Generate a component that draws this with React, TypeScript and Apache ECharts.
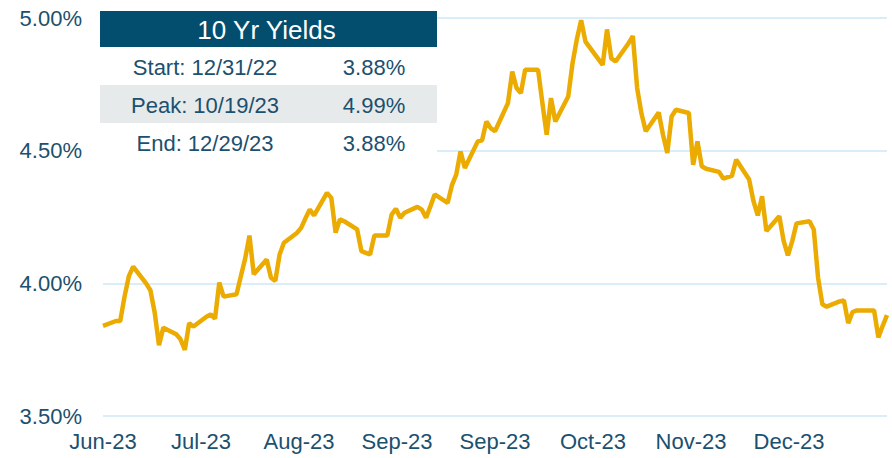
import React, { useEffect, useRef } from "react";
import * as echarts from "echarts";

// ---- data ----
const dates: string[] = [
  "2023-06-30", "2023-07-03", "2023-07-04", "2023-07-05", "2023-07-06", "2023-07-07",
  "2023-07-10", "2023-07-11", "2023-07-12", "2023-07-13", "2023-07-14",
  "2023-07-17", "2023-07-18", "2023-07-19", "2023-07-20", "2023-07-21",
  "2023-07-24", "2023-07-25", "2023-07-26", "2023-07-27", "2023-07-28",
  "2023-07-31", "2023-08-01", "2023-08-02", "2023-08-03", "2023-08-04",
  "2023-08-07", "2023-08-08", "2023-08-09", "2023-08-10", "2023-08-11",
  "2023-08-14", "2023-08-15", "2023-08-16", "2023-08-17", "2023-08-18",
  "2023-08-21", "2023-08-22", "2023-08-23", "2023-08-24", "2023-08-25",
  "2023-08-28", "2023-08-29", "2023-08-30", "2023-08-31", "2023-09-01",
  "2023-09-04", "2023-09-05", "2023-09-06", "2023-09-07", "2023-09-08",
  "2023-09-11", "2023-09-12", "2023-09-13", "2023-09-14", "2023-09-15",
  "2023-09-18", "2023-09-19", "2023-09-20", "2023-09-21", "2023-09-22",
  "2023-09-25", "2023-09-26", "2023-09-27", "2023-09-28", "2023-09-29",
  "2023-10-02", "2023-10-03", "2023-10-04", "2023-10-05", "2023-10-06",
  "2023-10-09", "2023-10-10", "2023-10-11", "2023-10-12", "2023-10-13",
  "2023-10-16", "2023-10-17", "2023-10-18", "2023-10-19", "2023-10-20",
  "2023-10-23", "2023-10-24", "2023-10-25", "2023-10-26", "2023-10-27",
  "2023-10-30", "2023-10-31", "2023-11-01", "2023-11-02", "2023-11-03",
  "2023-11-06", "2023-11-07", "2023-11-08", "2023-11-09", "2023-11-10",
  "2023-11-13", "2023-11-14", "2023-11-15", "2023-11-16", "2023-11-17",
  "2023-11-20", "2023-11-21", "2023-11-22", "2023-11-23", "2023-11-24",
  "2023-11-27", "2023-11-28", "2023-11-29", "2023-11-30", "2023-12-01",
  "2023-12-04", "2023-12-05", "2023-12-06", "2023-12-07", "2023-12-08",
  "2023-12-11", "2023-12-12", "2023-12-13", "2023-12-14", "2023-12-15",
  "2023-12-18", "2023-12-19", "2023-12-20", "2023-12-21", "2023-12-22",
  "2023-12-25", "2023-12-26", "2023-12-27", "2023-12-28", "2023-12-29",
];

const yields: number[] = [
  3.84, 3.858, 3.858, 3.95, 4.027, 4.063,
  4.0, 3.974, 3.89, 3.767, 3.833,
  3.808, 3.789, 3.749, 3.85, 3.837,
  3.874, 3.883, 3.867, 4.003, 3.95,
  3.959, 4.027, 4.093, 4.18, 4.034,
  4.09, 4.021, 4.009, 4.109, 4.153,
  4.19, 4.209, 4.245, 4.278, 4.256,
  4.341, 4.322, 4.191, 4.241, 4.234,
  4.203, 4.121, 4.115, 4.109, 4.18,
  4.18, 4.259, 4.281, 4.247, 4.266,
  4.288, 4.278, 4.247, 4.29, 4.335,
  4.303, 4.37, 4.41, 4.497, 4.435,
  4.535, 4.539, 4.61, 4.585, 4.573,
  4.679, 4.798, 4.736, 4.717, 4.805,
  4.805, 4.68, 4.56, 4.698, 4.61,
  4.704, 4.83, 4.92, 4.992, 4.911,
  4.845, 4.823, 4.957, 4.848, 4.836,
  4.905, 4.932, 4.736, 4.64, 4.573,
  4.644, 4.56, 4.491, 4.629, 4.654,
  4.642, 4.447, 4.535, 4.441, 4.432,
  4.42, 4.395, 4.4, 4.405, 4.466,
  4.391, 4.31, 4.256, 4.328, 4.197,
  4.253, 4.16, 4.105, 4.159, 4.226,
  4.234, 4.203, 4.021, 3.921, 3.912,
  3.932, 3.936, 3.85, 3.892, 3.898,
  3.898, 3.898, 3.796, 3.84, 3.88,
];

const axisStart = "2023-06-30";
const axisEnd = "2023-12-29";
const xLabels: string[] = ["Jun-23", "Jul-23", "Aug-23", "Sep-23", "Sep-23", "Oct-23", "Nov-23", "Dec-23"];
const yTicks: number[] = [3.5, 4.0, 4.5, 5.0];

const tableTitle = "10 Yr Yields";
const tableLabels: string[] = ["Start: 12/31/22", "Peak: 10/19/23", "End: 12/29/23"];
const tableValues: string[] = ["3.88%", "4.99%", "3.88%"];

// ---- helpers ----
const dayNum = (s: string) => {
  const [y, m, d] = s.split("-").map(Number);
  return Date.UTC(y, m - 1, d) / 86400000;
};

const FONT = "'Liberation Sans', Arial, Helvetica, sans-serif";
const TEXT_COLOR = "#1b506e";
const GRID_COLOR = "#d9eef9";
const LINE_COLOR = "#ebab00";
const HEADER_COLOR = "#034e6e";
const STRIPE_COLOR = "#e7eaeb";

export default function App() {
  const ref = useRef<HTMLDivElement>(null);

  useEffect(() => {
    if (!ref.current) return;
    const chart = echarts.init(ref.current, undefined, { renderer: "svg" });
    const start = dayNum(axisStart);
    const span = dayNum(axisEnd) - start;
    const step = span / xLabels.length;
    const seriesData = dates.map((d, i) => [dayNum(d) - start, yields[i]]);

    const tblX = 100;
    const tblW = 337;
    const rowY = [47, 85, 123];
    const rowH = 38;

    const graphics: any[] = [
      { type: "rect", z: 100, shape: { x: tblX, y: 11, width: tblW, height: 152 }, style: { fill: "#ffffff" } },
      { type: "rect", z: 101, shape: { x: tblX, y: 11, width: tblW, height: 36 }, style: { fill: HEADER_COLOR } },
      { type: "rect", z: 101, shape: { x: tblX, y: rowY[1], width: tblW, height: rowH }, style: { fill: STRIPE_COLOR } },
      {
        type: "text", z: 102, x: tblX + tblW / 2 - 2, y: 30,
        style: { text: tableTitle, fill: "#ffffff", font: `26px ${FONT}`, textAlign: "center", textVerticalAlign: "middle" },
      },
    ];
    tableLabels.forEach((t, i) => {
      const cy = rowY[i] + rowH / 2 + 1;
      graphics.push({
        type: "text", z: 102, x: 205, y: cy,
        style: { text: t, fill: TEXT_COLOR, font: `22px ${FONT}`, textAlign: "center", textVerticalAlign: "middle" },
      });
      graphics.push({
        type: "text", z: 102, x: 374, y: cy,
        style: { text: tableValues[i], fill: TEXT_COLOR, font: `22px ${FONT}`, textAlign: "center", textVerticalAlign: "middle" },
      });
    });

    chart.setOption({
      animation: false,
      backgroundColor: "#ffffff",
      grid: { left: 103, right: 5, top: 18, bottom: 42, containLabel: false },
      xAxis: {
        type: "value",
        min: 0,
        max: span,
        interval: step,
        axisLine: { show: false },
        axisTick: { show: false },
        splitLine: { show: false },
        axisLabel: {
          margin: 14,
          color: TEXT_COLOR,
          fontSize: 22,
          fontFamily: FONT,
          formatter: (v: number) => {
            const i = Math.round(v / step);
            return xLabels[i] ?? "";
          },
        },
      },
      yAxis: {
        type: "value",
        min: yTicks[0],
        max: yTicks[yTicks.length - 1],
        interval: 0.5,
        axisLine: { show: false },
        axisTick: { show: false },
        splitLine: { show: true, lineStyle: { color: GRID_COLOR, width: 2 } },
        axisLabel: {
          margin: 21,
          color: TEXT_COLOR,
          fontSize: 22,
          fontFamily: FONT,
          formatter: (v: number) => v.toFixed(2) + "%",
        },
      },
      series: [
        {
          type: "line",
          data: seriesData,
          showSymbol: false,
          symbol: "none",
          lineStyle: { color: LINE_COLOR, width: 4.5 },
          z: 3,
        },
      ],
      graphic: graphics,
    });

    return () => chart.dispose();
  }, []);

  return (
    <div
      ref={ref}
      style={{ position: "absolute", left: 0, top: 0, width: 892, height: 458 }}
    />
  );
}
